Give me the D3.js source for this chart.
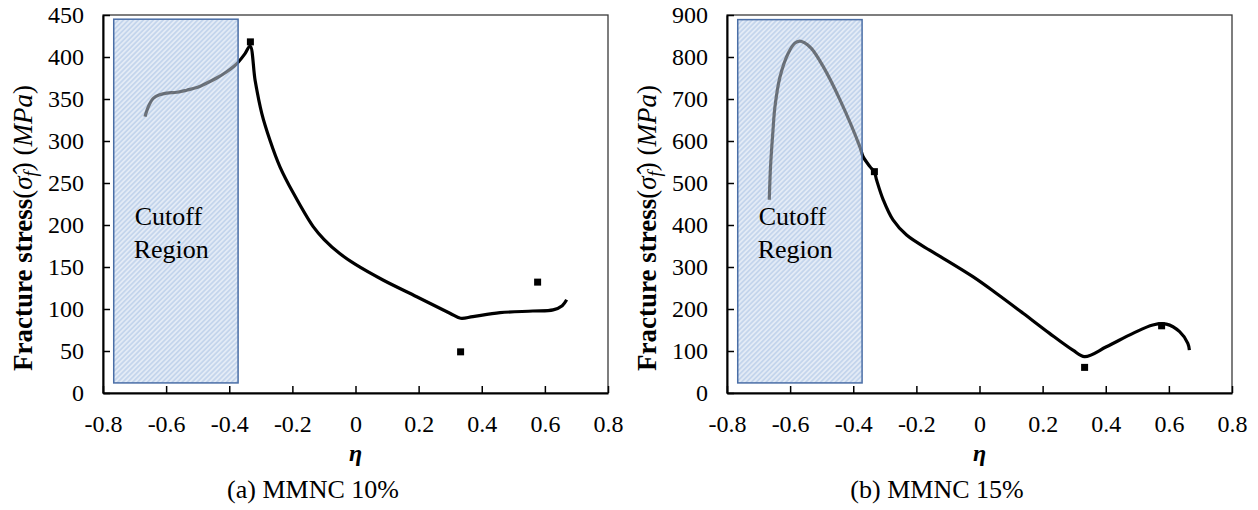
<!DOCTYPE html>
<html><head><meta charset="utf-8">
<script src="https://cdn.jsdelivr.net/npm/d3@7"></script>
<style>body{margin:0;background:#fff}</style>
</head><body><svg id="c" width="1258" height="510"></svg>
<script>
// ---------- data ----------
const etaTicks = [-0.8,-0.6,-0.4,-0.2,0,0.2,0.4,0.6,0.8];
const etaTickLabels = ["-0.8","-0.6","-0.4","-0.2","0","0.2","0.4","0.6","0.8"];
const stressTicks10 = [0,50,100,150,200,250,300,350,400,450];
const stressTicks15 = [0,100,200,300,400,500,600,700,800,900];

const curveEta10 = [-0.667,-0.655,-0.64,-0.62,-0.598,-0.565,-0.535,-0.50,-0.471,-0.44,-0.408,-0.385,-0.371,-0.35,-0.334,-0.318,-0.297,-0.271,-0.239,-0.197,-0.134,-0.10,-0.05,0,0.087,0.194,0.299,0.333,0.372,0.458,0.562,0.626,0.655,0.669];
const curveStress10 = [329,342,351,355,357,358,360.5,364,369,375,382.5,389,394,404,413,372,333,301,269,238,198,183,166,153,134.5,114.6,95,89,91,95.6,97.6,99,104,111];

const curveEta15 = [-0.666,-0.662,-0.655,-0.648,-0.632,-0.606,-0.585,-0.57,-0.555,-0.532,-0.495,-0.442,-0.379,-0.369,-0.347,-0.333,-0.326,-0.305,-0.274,-0.231,-0.158,-0.12,-0.021,0.054,0.138,0.222,0.296,0.333,0.402,0.486,0.549,0.592,0.634,0.660,0.665];
const curveStress15 = [460,540,618,682,753,809,833,838,834,820,777,698,586,563,539,526,507,460,412,376,340,323,277,237,190,142,102,86.5,110,142,162,164,146,118,102];

const markerEta = [-0.333, 0.333, 0.577];
const markerStress10 = [418, 49, 132];
const markerStress15 = [527, 61, 160];

const cutoffEta = [-0.766, -0.372];
const cutoffStress10 = [12, 445];
const cutoffStress15 = [24, 889];

const captions = ["(a) MMNC 10%", "(b) MMNC 15%"];

// ---------- drawing ----------
const svg = d3.select("#c");
svg.append("rect").attr("width",1258).attr("height",510).attr("fill","#fff");
const defs = svg.append("defs");
const pat = defs.append("pattern").attr("id","hatch").attr("patternUnits","userSpaceOnUse")
  .attr("width",3.5).attr("height",3.5).attr("patternTransform","rotate(45)");
pat.append("rect").attr("width",3.5).attr("height",3.5).attr("fill","#c4d5ec");
pat.append("line").attr("x1",1.75).attr("y1",0).attr("x2",1.75).attr("y2",3.5)
  .attr("stroke","#eef3fa").attr("stroke-width",1.3);

const serif = "'Liberation Serif','Times New Roman',serif";

function panel(off, yMax, yTicks, eta, stress, mStress, cutY, caption){
  const x = d3.scaleLinear().domain([-0.8,0.8]).range([103+off, 608+off]);
  const y = d3.scaleLinear().domain([0,yMax]).range([393,15]);
  const g = svg.append("g");

  // plot border (top/right)
  g.append("rect").attr("x",x(-0.8)).attr("y",y(yMax))
    .attr("width",x(0.8)-x(-0.8)).attr("height",y(0)-y(yMax))
    .attr("fill","none").attr("stroke","#3a3a3a").attr("stroke-width",1.3);

  // cutoff region
  const rx = x(cutoffEta[0]), rw = x(cutoffEta[1]) - x(cutoffEta[0]);
  const ry = y(cutY[1]), rh = y(cutY[0]) - y(cutY[1]);
  g.append("rect").attr("x",rx).attr("y",ry).attr("width",rw).attr("height",rh)
    .attr("fill","url(#hatch)");

  // curve
  const pts = eta.map((e,i)=>[e, stress[i]]);
  const line = d3.line().x(d=>x(d[0])).y(d=>y(d[1])).curve(d3.curveCatmullRom.alpha(0.5));
  g.append("path").attr("d", line(pts)).attr("fill","none")
    .attr("stroke","#000").attr("stroke-width",3.2).attr("stroke-linejoin","round");

  // overlay to grey the curve inside cutoff
  g.append("rect").attr("x",rx).attr("y",ry).attr("width",rw).attr("height",rh)
    .attr("fill","url(#hatch)").attr("fill-opacity",0.5);
  g.append("rect").attr("x",rx).attr("y",ry).attr("width",rw).attr("height",rh)
    .attr("fill","none").attr("stroke","#4a6ea6").attr("stroke-width",1.5);

  // markers
  g.selectAll("rect.m").data(markerEta.map((e,i)=>[e,mStress[i]])).enter()
    .append("rect").attr("class","m")
    .attr("x",d=>x(d[0])-3.5).attr("y",d=>y(d[1])-3.5)
    .attr("width",7).attr("height",7).attr("fill","#000");

  // axes
  const xa = d3.axisBottom(x).tickValues(etaTicks)
    .tickFormat((d,i)=>etaTickLabels[i]).tickSizeInner(-7).tickSizeOuter(0).tickPadding(22);
  const gx = g.append("g").attr("transform",`translate(0,${y(0)})`).call(xa);
  const ya = d3.axisLeft(y).tickValues(yTicks).tickSizeInner(-7).tickSizeOuter(0).tickPadding(19);
  const gy = g.append("g").attr("transform",`translate(${x(-0.8)},0)`).call(ya);
  [gx,gy].forEach(a=>{
    a.select(".domain").attr("stroke","#000").attr("stroke-width",2);
    a.selectAll(".tick line").attr("stroke","#000").attr("stroke-width",1.5);
    a.selectAll(".tick text").attr("font-family",serif).attr("font-size",24).attr("fill","#000");
  });

  // cutoff label
  const tl = g.append("text").attr("font-family",serif).attr("font-size",26).attr("fill","#000");
  tl.append("tspan").attr("x",rx+21).attr("y",225).text("Cutoff");
  tl.append("tspan").attr("x",rx+20).attr("y",258).text("Region");

  // x title
  g.append("text").attr("x",x(0)).attr("y",461).attr("text-anchor","middle")
    .attr("font-family",serif).attr("font-size",24).attr("font-weight","bold")
    .attr("font-style","italic").text("η");

  // caption
  g.append("text").attr("x",313+off).attr("y",498).attr("text-anchor","middle")
    .attr("font-family",serif).attr("font-size",26).text(caption);

  // y title
  const yt = g.append("text").attr("transform",`translate(${32+off},228) rotate(-90)`)
    .attr("text-anchor","middle").attr("font-family",serif).attr("font-size",27).attr("fill","#000");
  yt.append("tspan").attr("font-weight","bold").text("Fracture stress");
  yt.append("tspan").text("(");
  yt.append("tspan").attr("font-style","italic").text("σ\u0302");
  yt.append("tspan").attr("font-style","italic").attr("font-size",19).attr("dy",5).text("f");
  yt.append("tspan").attr("dy",-5).text(") (");
  yt.append("tspan").attr("font-style","italic").text("MPa");
  yt.append("tspan").text(")");
}

panel(0, 450, stressTicks10, curveEta10, curveStress10, markerStress10, cutoffStress10, captions[0]);
panel(624, 900, stressTicks15, curveEta15, curveStress15, markerStress15, cutoffStress15, captions[1]);
</script>
</body></html>
